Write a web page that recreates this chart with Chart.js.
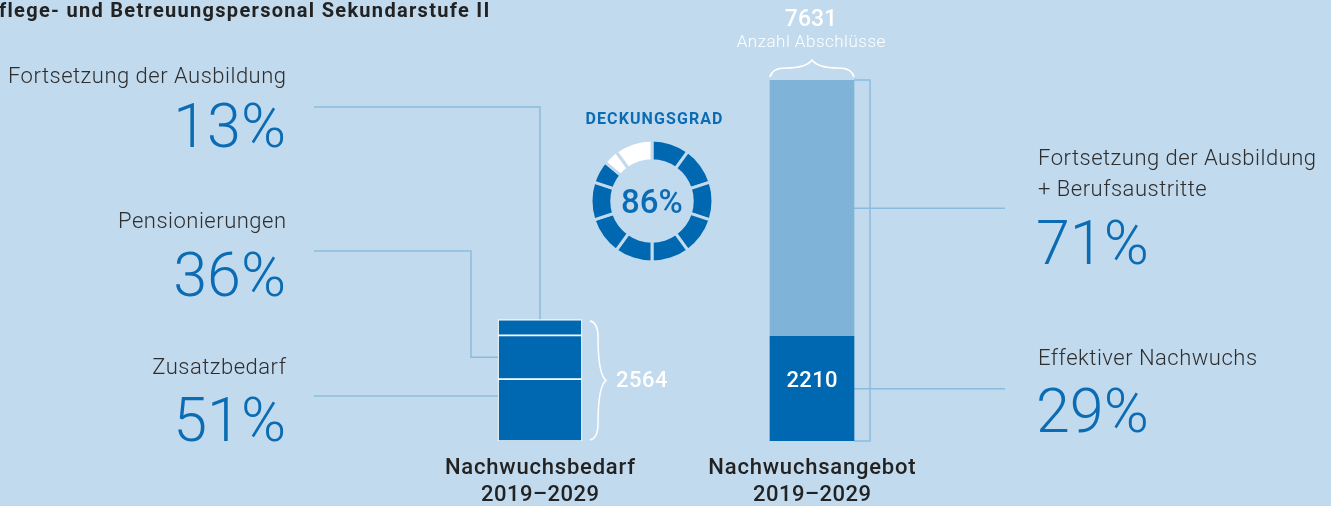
<!DOCTYPE html>
<html lang="de">
<head>
<meta charset="utf-8">
<title>Nachwuchsbedarf und Nachwuchsangebot</title>
<script src="https://cdn.jsdelivr.net/npm/chart.js@4.4.1/dist/chart.umd.min.js"></script>
<style>
  html, body { margin: 0; padding: 0; }
  body { width: 1331px; height: 506px; overflow: hidden; background: #c2daed; position: relative;
         font-family: Roboto, "Noto Sans", sans-serif; }
  #bars { position: absolute; left: 0; top: 0; }
  #donut { position: absolute; left: 587px; top: 136px; }
  .t { position: absolute; white-space: nowrap; line-height: 1; }
</style>
</head>
<body>
<canvas id="bars" width="1331" height="506"></canvas>
<canvas id="donut" width="130" height="130"></canvas>
<div id="labels"></div>
<script>
// data
const categories = ['Nachwuchsbedarf 2019–2029', 'Nachwuchsangebot 2019–2029'];
const bedarfLabels = ['Zusatzbedarf', 'Pensionierungen', 'Fortsetzung der Ausbildung'];
const bedarfShares = [51, 36, 13];
const bedarfTotal = 2564;
const angebotLabels = ['Effektiver Nachwuchs', 'Fortsetzung der Ausbildung + Berufsaustritte'];
const angebotValues = [2210, 5421];
const angebotShares = [29, 71];
const angebotTotal = 7631;
const deckungsgrad = 86;
const donutSegments = [10, 10, 10, 10, 10, 10, 10, 10, 6, 4, 10];

const bg = '#c2daed';
const dark = '#0068b0';
const light = '#7fb4d8';
const lineCol = '#8bbcde';
const textBlue = '#0b6cb4';
const grey = '#2e2e2e';

const bedarfValues = bedarfShares.map(s => bedarfTotal * s / 100);

const connectors = {
  id: 'connectors',
  beforeDatasetsDraw(chart) {
    const ctx = chart.ctx;
    const bed = i => chart.getDatasetMeta(i).data[0];
    const ang = i => chart.getDatasetMeta(3 + i).data[1];
    ctx.save();
    ctx.strokeStyle = lineCol;
    ctx.lineWidth = 1.5;
    // Fortsetzung der Ausbildung
    let b = bed(2);
    ctx.beginPath();
    ctx.moveTo(314, 107); ctx.lineTo(b.x, 107); ctx.lineTo(b.x, b.y);
    ctx.stroke();
    // Pensionierungen
    b = bed(1);
    let my = (b.y + b.base) / 2;
    ctx.beginPath();
    ctx.moveTo(314, 251); ctx.lineTo(471, 251); ctx.lineTo(471, my); ctx.lineTo(b.x - b.width / 2, my);
    ctx.stroke();
    // Zusatzbedarf
    b = bed(0);
    ctx.beginPath();
    ctx.moveTo(314, 396); ctx.lineTo(b.x - b.width / 2, 396);
    ctx.stroke();
    // right bracket
    const top = ang(1), bot = ang(0);
    const r = top.x + top.width / 2;
    ctx.beginPath();
    ctx.moveTo(r, top.y); ctx.lineTo(870, top.y); ctx.lineTo(870, bot.base); ctx.lineTo(r, bot.base);
    ctx.stroke();
    ctx.beginPath();
    ctx.moveTo(r, (top.y + top.base) / 2); ctx.lineTo(1005, (top.y + top.base) / 2);
    ctx.moveTo(r, (bot.y + bot.base) / 2); ctx.lineTo(1005, (bot.y + bot.base) / 2);
    ctx.stroke();
    ctx.restore();
  },
  afterDatasetsDraw(chart) {
    const ctx = chart.ctx;
    ctx.save();
    ctx.strokeStyle = '#ffffff';
    ctx.lineWidth = 1.5;
    // vertical brace next to Nachwuchsbedarf
    const t = chart.getDatasetMeta(2).data[0];
    const x0 = t.x + t.width / 2 + 8;
    const y1 = t.y + 1, y2 = chart.getDatasetMeta(0).data[0].base - 1, ym = (y1 + y2) / 2;
    ctx.beginPath();
    ctx.moveTo(x0, y1);
    ctx.quadraticCurveTo(x0 + 8, y1 + 2, x0 + 8, y1 + 16);
    ctx.quadraticCurveTo(x0 + 8, ym - 6, x0 + 16, ym);
    ctx.quadraticCurveTo(x0 + 8, ym + 6, x0 + 8, y2 - 16);
    ctx.quadraticCurveTo(x0 + 8, y2 - 2, x0, y2);
    ctx.stroke();
    // horizontal brace above Nachwuchsangebot
    const a = chart.getDatasetMeta(4).data[1];
    const l = a.x - a.width / 2, rr = a.x + a.width / 2, yb = a.y - 3;
    ctx.beginPath();
    ctx.moveTo(l, yb);
    ctx.quadraticCurveTo(l + 2, yb - 9, l + 16, yb - 9);
    ctx.quadraticCurveTo(a.x - 6, yb - 9, a.x, yb - 17);
    ctx.quadraticCurveTo(a.x + 6, yb - 9, rr - 16, yb - 9);
    ctx.quadraticCurveTo(rr - 2, yb - 9, rr, yb);
    ctx.stroke();
    ctx.restore();
  }
};

new Chart(document.getElementById('bars'), {
  type: 'bar',
  data: {
    labels: categories,
    datasets: [
      { label: bedarfLabels[0], data: [bedarfValues[0], null], backgroundColor: dark, borderColor: '#ffffff', borderWidth: 1.2, borderSkipped: false },
      { label: bedarfLabels[1], data: [bedarfValues[1], null], backgroundColor: dark, borderColor: '#ffffff', borderWidth: 1.2, borderSkipped: false },
      { label: bedarfLabels[2], data: [bedarfValues[2], null], backgroundColor: dark, borderColor: '#ffffff', borderWidth: 1.2, borderSkipped: false },
      { label: angebotLabels[0], data: [null, angebotValues[0]], backgroundColor: dark, borderWidth: 0 },
      { label: angebotLabels[1], data: [null, angebotValues[1]], backgroundColor: light, borderWidth: 0 }
    ]
  },
  options: {
    responsive: false,
    animation: false,
    devicePixelRatio: 1,
    events: [],
    layout: { padding: { left: 404, right: 383, top: 80, bottom: 65 } },
    scales: {
      x: { stacked: true, display: false },
      y: { stacked: true, display: false, min: 0, max: angebotTotal }
    },
    datasets: { bar: { barThickness: 84 } },
    plugins: { legend: { display: false }, tooltip: { enabled: false } }
  },
  plugins: [connectors]
});

new Chart(document.getElementById('donut'), {
  type: 'doughnut',
  data: {
    labels: donutSegments.map((v, i) => 'Segment ' + (i + 1)),
    datasets: [{
      data: donutSegments,
      backgroundColor: donutSegments.map((v, i) => i < 9 ? dark : '#ffffff'),
      borderColor: bg,
      borderWidth: 3,
      borderJoinStyle: 'miter'
    }]
  },
  options: {
    responsive: false,
    animation: false,
    devicePixelRatio: 1,
    events: [],
    radius: 61,
    cutout: '66%',
    plugins: { legend: { display: false }, tooltip: { enabled: false } }
  }
});

// texts
function label(text, x, base, size, weight, color, align, spacing) {
  const d = document.createElement('div');
  d.className = 't';
  d.textContent = text;
  d.style.fontSize = size + 'px';
  d.style.fontWeight = weight;
  d.style.color = color;
  if (spacing) d.style.letterSpacing = spacing + 'px';
  d.style.top = (base - 0.842 * size) + 'px';
  if (align === 'right') d.style.right = (1331 - x - (spacing || 0)) + 'px';
  else if (align === 'center') { d.style.left = (x + (spacing || 0) / 2) + 'px'; d.style.transform = 'translateX(-50%)'; }
  else d.style.left = x + 'px';
  document.getElementById('labels').appendChild(d);
}

label('flege- und Betreuungspersonal Sekundarstufe II', -1, 17, 20, 700, '#222', 'left', 1.3);

label(bedarfLabels[2], 286, 84, 22, 300, grey, 'right', 0.5);
label(bedarfShares[2] + '%', 286, 147, 61, 300, textBlue, 'right');
label(bedarfLabels[1], 286, 229, 22, 300, grey, 'right', 0.5);
label(bedarfShares[1] + '%', 286, 296, 61, 300, textBlue, 'right');
label(bedarfLabels[0], 286, 375, 22, 300, grey, 'right', 0.5);
label(bedarfShares[0] + '%', 286, 441, 61, 300, textBlue, 'right');

label('Fortsetzung der Ausbildung', 1038, 166, 22, 300, grey, 'left', 0.5);
label('+ Berufsaustritte', 1038, 197, 22, 300, grey, 'left', 0.5);
label(angebotShares[1] + '%', 1036, 264, 61, 300, textBlue, 'left');
label(angebotLabels[0], 1038, 366, 22, 300, grey, 'left', 0.5);
label(angebotShares[0] + '%', 1036, 432, 61, 300, textBlue, 'left');

label('DECKUNGSGRAD', 654, 124, 16, 700, textBlue, 'center', 1.1);
label(deckungsgrad + '%', 652, 213, 33, 500, textBlue, 'center');

label(String(bedarfTotal), 616, 388, 22, 500, '#ffffff', 'left', 0.5);
label(String(angebotValues[0]), 812, 388, 22, 500, '#ffffff', 'center', 0.3);
label(String(angebotTotal), 811, 26, 23, 500, '#ffffff', 'center');
label('Anzahl Abschlüsse', 811, 47, 17, 300, '#ffffff', 'center', 0.5);

label('Nachwuchsbedarf', 540, 475, 22, 500, '#222', 'center', 0.8);
label('2019–2029', 540, 502, 22, 500, '#222', 'center', 0.5);
label('Nachwuchsangebot', 812, 475, 22, 500, '#222', 'center', 0.8);
label('2019–2029', 812, 502, 22, 500, '#222', 'center', 0.5);
</script>
</body>
</html>
